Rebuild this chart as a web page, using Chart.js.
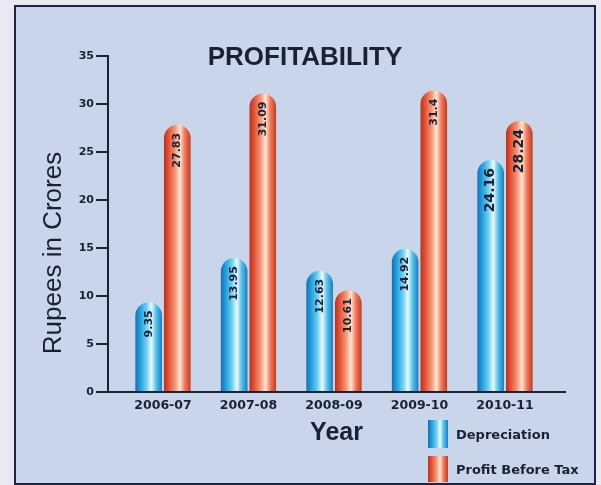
<!DOCTYPE html>
<html>
<head>
<meta charset="utf-8">
<script src="https://cdn.jsdelivr.net/npm/chart.js@4.4.1/dist/chart.umd.min.js"></script>
<style>
  html, body { margin: 0; padding: 0; background: #ebe8f2; }
  #frame { position: absolute; left: 14px; top: 5px; width: 578px; height: 476px; border: 2px solid #1d2543; background: #c9d5ea; }
  #wrap { position: absolute; left: 0; top: 0; width: 601px; height: 485px; }
</style>
</head>
<body>
<div id="frame"></div>
<div id="wrap"><canvas id="chart" width="601" height="485"></canvas></div>
<script>
// values
const years = ["2006-07", "2007-08", "2008-09", "2009-10", "2010-11"];
const depreciation = [9.35, 13.95, 12.63, 14.92, 24.16];
const profitBeforeTax = [27.83, 31.09, 10.61, 31.4, 28.24];
const seriesNames = ["Depreciation", "Profit Before Tax"];
const yTicks = { min: 0, max: 35, step: 5 };

const chartTitle = "PROFITABILITY";
const yTitle = "Rupees in Crores";
const xTitle = "Year";

const ink = "#1b2033";
const catPct = 0.67;
const barPct = 0.93;

const blueStops = [[0, "#1670b0"], [0.18, "#239fdc"], [0.42, "#6fd0f2"], [0.6, "#e9fbff"], [0.78, "#58c0ea"], [1, "#1a7dbe"]];
const redStops = [[0, "#b8321c"], [0.18, "#e4533a"], [0.42, "#f49878"], [0.6, "#ffe6d4"], [0.78, "#ef7a5c"], [1, "#c23a22"]];

function makeGrad(c, x0, x1, stops) {
    const g = c.createLinearGradient(x0, 0, x1, 0);
    stops.forEach(s => g.addColorStop(s[0], s[1]));
    return g;
}

// cylinder shading, worked out from the x scale
function barFill(stops, dsIndex) {
    return function (context) {
        const chart = context.chart;
        const xs = chart.scales.x;
        if (!xs || context.dataIndex === undefined || !chart.chartArea) return stops[2][1];
        const unit = xs.getPixelForValue(1) - xs.getPixelForValue(0);
        const slot = unit * catPct / 2;
        const center = xs.getPixelForValue(context.dataIndex) - slot / 2 + slot * dsIndex;
        const half = slot * barPct / 2;
        return makeGrad(chart.ctx, center - half, center + half, stops);
    };
}

const decorPlugin = {
    id: "decor",
    afterDraw(chart) {
        const c = chart.ctx;
        c.save();
        c.fillStyle = ink;
        c.textAlign = "center";
        c.textBaseline = "middle";
        c.font = 'bold 26px "Liberation Sans", Arial, sans-serif';
        c.fillText(chartTitle, 305, 58);

        c.save();
        c.translate(54, 253);
        c.rotate(-Math.PI / 2);
        c.font = '26px "Liberation Sans", Arial, sans-serif';
        c.fillText(yTitle, 0, 0);
        c.restore();

        // value labels, vertical, near the top of each bar
        chart.data.datasets.forEach((ds, di) => {
            chart.getDatasetMeta(di).data.forEach((el, i) => {
                const size = i === years.length - 1 ? 14 : 11;
                c.save();
                c.translate(el.x, el.y + 8);
                c.rotate(-Math.PI / 2);
                c.textAlign = "right";
                c.font = "bold " + size + 'px "DejaVu Sans", sans-serif';
                c.fillText(String(ds.data[i].y), 0, 0);
                c.restore();
            });
        });

        // legend
        const sw = [[420, 28, blueStops], [456, 26, redStops]];
        sw.forEach((s, k) => {
            c.fillStyle = makeGrad(c, 428, 448, s[2]);
            c.fillRect(428, s[0], 20, s[1]);
            c.fillStyle = ink;
            c.textAlign = "left";
            c.font = 'bold 13px "DejaVu Sans", sans-serif';
            c.fillText(seriesNames[k], 456, s[0] + s[1] / 2 + 2);
        });
        c.restore();
    }
};

new Chart(document.getElementById("chart"), {
    type: "bar",
    data: {
        datasets: [
            {
                label: seriesNames[0],
                data: years.map((y, i) => ({ x: i, y: depreciation[i] })),
                backgroundColor: barFill(blueStops, 0),
                borderRadius: { topLeft: 14, topRight: 14, bottomLeft: 0, bottomRight: 0 },
                borderSkipped: "start",
                categoryPercentage: catPct,
                barPercentage: barPct
            },
            {
                label: seriesNames[1],
                data: years.map((y, i) => ({ x: i, y: profitBeforeTax[i] })),
                backgroundColor: barFill(redStops, 1),
                borderRadius: { topLeft: 14, topRight: 14, bottomLeft: 0, bottomRight: 0 },
                borderSkipped: "start",
                categoryPercentage: catPct,
                barPercentage: barPct
            }
        ]
    },
    plugins: [decorPlugin],
    options: {
        responsive: false,
        animation: false,
        layout: { padding: { top: 56, right: 36, left: 0, bottom: 0 } },
        plugins: { legend: { display: false }, title: { display: false }, tooltip: { enabled: false } },
        scales: {
            x: {
                type: "linear",
                offset: false,
                min: -0.643,
                max: 4.702,
                afterBuildTicks: s => { s.ticks = years.map((y, i) => ({ value: i })); },
                afterFit: s => { s.height = 93; },
                grid: { display: false, drawTicks: false },
                border: { color: ink, width: 2 },
                ticks: {
                    callback: v => years[v] !== undefined ? years[v] : "",
                    font: { family: "DejaVu Sans", weight: "bold", size: 12.5 },
                    color: ink,
                    padding: 6,
                    maxRotation: 0,
                    autoSkip: false
                },
                title: {
                    display: true,
                    text: xTitle,
                    color: ink,
                    font: { family: "Liberation Sans", weight: "bold", size: 25 },
                    padding: { top: 0, bottom: 37 }
                }
            },
            y: {
                min: yTicks.min,
                max: yTicks.max,
                afterFit: s => { s.width = 108; s.paddingTop = 0; s.paddingBottom = 0; },
                ticks: {
                    stepSize: yTicks.step,
                    font: { family: "DejaVu Sans", weight: "bold", size: 11 },
                    color: ink,
                    padding: 2
                },
                grid: { drawOnChartArea: false, drawTicks: true, tickLength: 12, color: ink, lineWidth: 2 },
                border: { color: ink, width: 2 }
            }
        }
    }
});
</script>
</body>
</html>
